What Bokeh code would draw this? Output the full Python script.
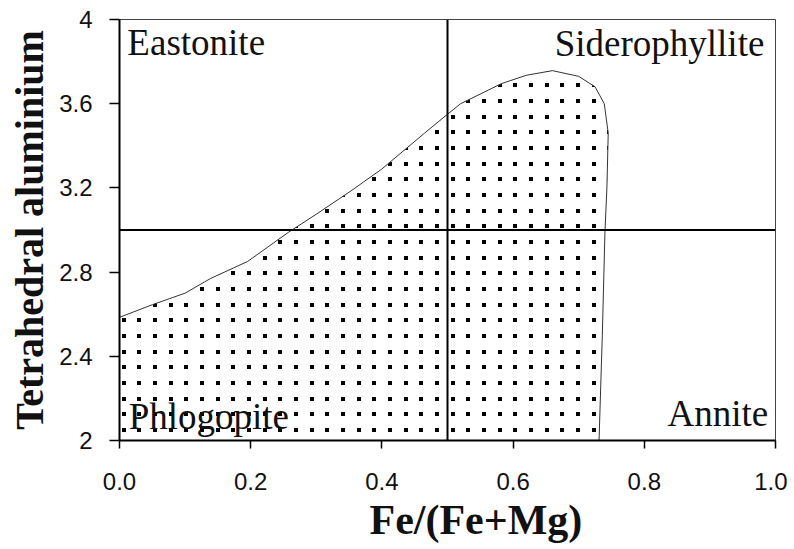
from bokeh.plotting import figure
from bokeh.models import ColumnDataSource, FixedTicker, Span, Title, Range1d, CanvasTexture
from bokeh.core.properties import value
from bokeh.embed import file_html
from bokeh.resources import INLINE

# ---- data ----
field_x = [0.0, 0.05, 0.10, 0.139, 0.195, 0.258, 0.30, 0.353, 0.40, 0.465, 0.50, 0.52,
           0.582, 0.62, 0.66, 0.70, 0.725, 0.739, 0.745, 0.743, 0.740, 0.736, 0.731, 0.0]
field_y = [2.585, 2.645, 2.70, 2.77, 2.85, 2.99, 3.075, 3.186, 3.29, 3.46, 3.55, 3.60,
           3.695, 3.735, 3.757, 3.73, 3.68, 3.60, 3.46, 3.20, 2.99, 2.50, 2.0, 2.0]

divide_x = 0.5
divide_y = 3.0

names = ["Eastonite", "Siderophyllite", "Phlogopite", "Annite"]
name_x = [0.012, 0.983, 0.014, 0.989]
name_y = [3.893, 3.884, 2.112, 2.126]
name_align = ["left", "right", "left", "right"]

x_ticks = [0.0, 0.2, 0.4, 0.6, 0.8, 1.0]
x_tick_labels = ["0.0", "0.2", "0.4", "0.6", "0.8", "1.0"]
y_ticks = [2.0, 2.4, 2.8, 3.2, 3.6, 4.0]
y_tick_labels = ["2", "2.4", "2.8", "3.2", "3.6", "4"]

x_title = "Fe/(Fe+Mg)"
y_title = "Tetrahedral aluminium"

# ---- figure ----
p = figure(frame_width=656, frame_height=421,
           x_range=Range1d(0, 1), y_range=Range1d(2, 4),
           output_backend="svg", toolbar_location=None,
           min_border_left=119, min_border_right=12,
           min_border_top=19, min_border_bottom=0)
p.background_fill_color = "white"
p.border_fill_color = "white"
p.outline_line_color = "#444444"
p.outline_line_width = 1
p.grid.visible = False

# small square dot texture for the field
dots = CanvasTexture(repetition="repeat", code="""
const n = 47;
ctx.canvas.width = n; ctx.canvas.height = n;
ctx.fillStyle = color;
const xs = [13, 29, 44], ys = [6, 22, 37];
for (const x of xs) { for (const y of ys) { ctx.fillRect(x - 1, y - 1, 4, 4); } }
""")

p.patch(field_x, field_y, fill_alpha=0, line_color="#333333", line_width=1,
        hatch_pattern="d", hatch_extra={"d": dots}, hatch_color="#000000",
        hatch_scale=47, hatch_weight=1)

# divider lines
p.add_layout(Span(location=divide_x, dimension="height", line_color="black", line_width=2))
p.add_layout(Span(location=divide_y, dimension="width", line_color="black", line_width=2))

# field names
src = ColumnDataSource(dict(x=name_x, y=name_y, t=names, a=name_align))
p.text(x="x", y="y", text="t", text_align="a", source=src,
       text_font=value("Liberation Serif"), text_font_size="37px",
       text_baseline="alphabetic", text_color="#111111")

# axes
for ax in (p.xaxis[0], p.yaxis[0]):
    ax.axis_line_width = 2
    ax.axis_line_color = "black"
    ax.major_tick_line_color = "black"
    ax.major_tick_line_width = 1.5
    ax.major_tick_in = 0
    ax.minor_tick_line_color = None
    ax.major_label_text_font = "Liberation Sans"
    ax.major_label_text_font_size = "24px"
    ax.major_label_text_color = "#111111"

p.xaxis.major_tick_out = 8
p.yaxis.major_tick_out = 10
p.xaxis.ticker = FixedTicker(ticks=x_ticks)
p.yaxis.ticker = FixedTicker(ticks=y_ticks)
p.xaxis.major_label_overrides = dict(zip(x_ticks, x_tick_labels))
p.yaxis.major_label_overrides = dict(zip(y_ticks, y_tick_labels))
p.xaxis.major_label_standoff = 24
p.yaxis.major_label_standoff = 17

p.yaxis.axis_label = y_title
p.yaxis.axis_label_text_font = "Liberation Serif"
p.yaxis.axis_label_text_font_style = "bold"
p.yaxis.axis_label_text_font_size = "40px"
p.yaxis.axis_label_text_color = "#111111"
p.yaxis.axis_label_standoff = 4

p.add_layout(Title(text=x_title, align="left", offset=250, standoff=8,
                   vertical_align="top",
                   text_font="Liberation Serif", text_font_style="bold",
                   text_font_size="42px", text_color="#111111"), "below")

open("out.html", "w").write(file_html(p, INLINE))
